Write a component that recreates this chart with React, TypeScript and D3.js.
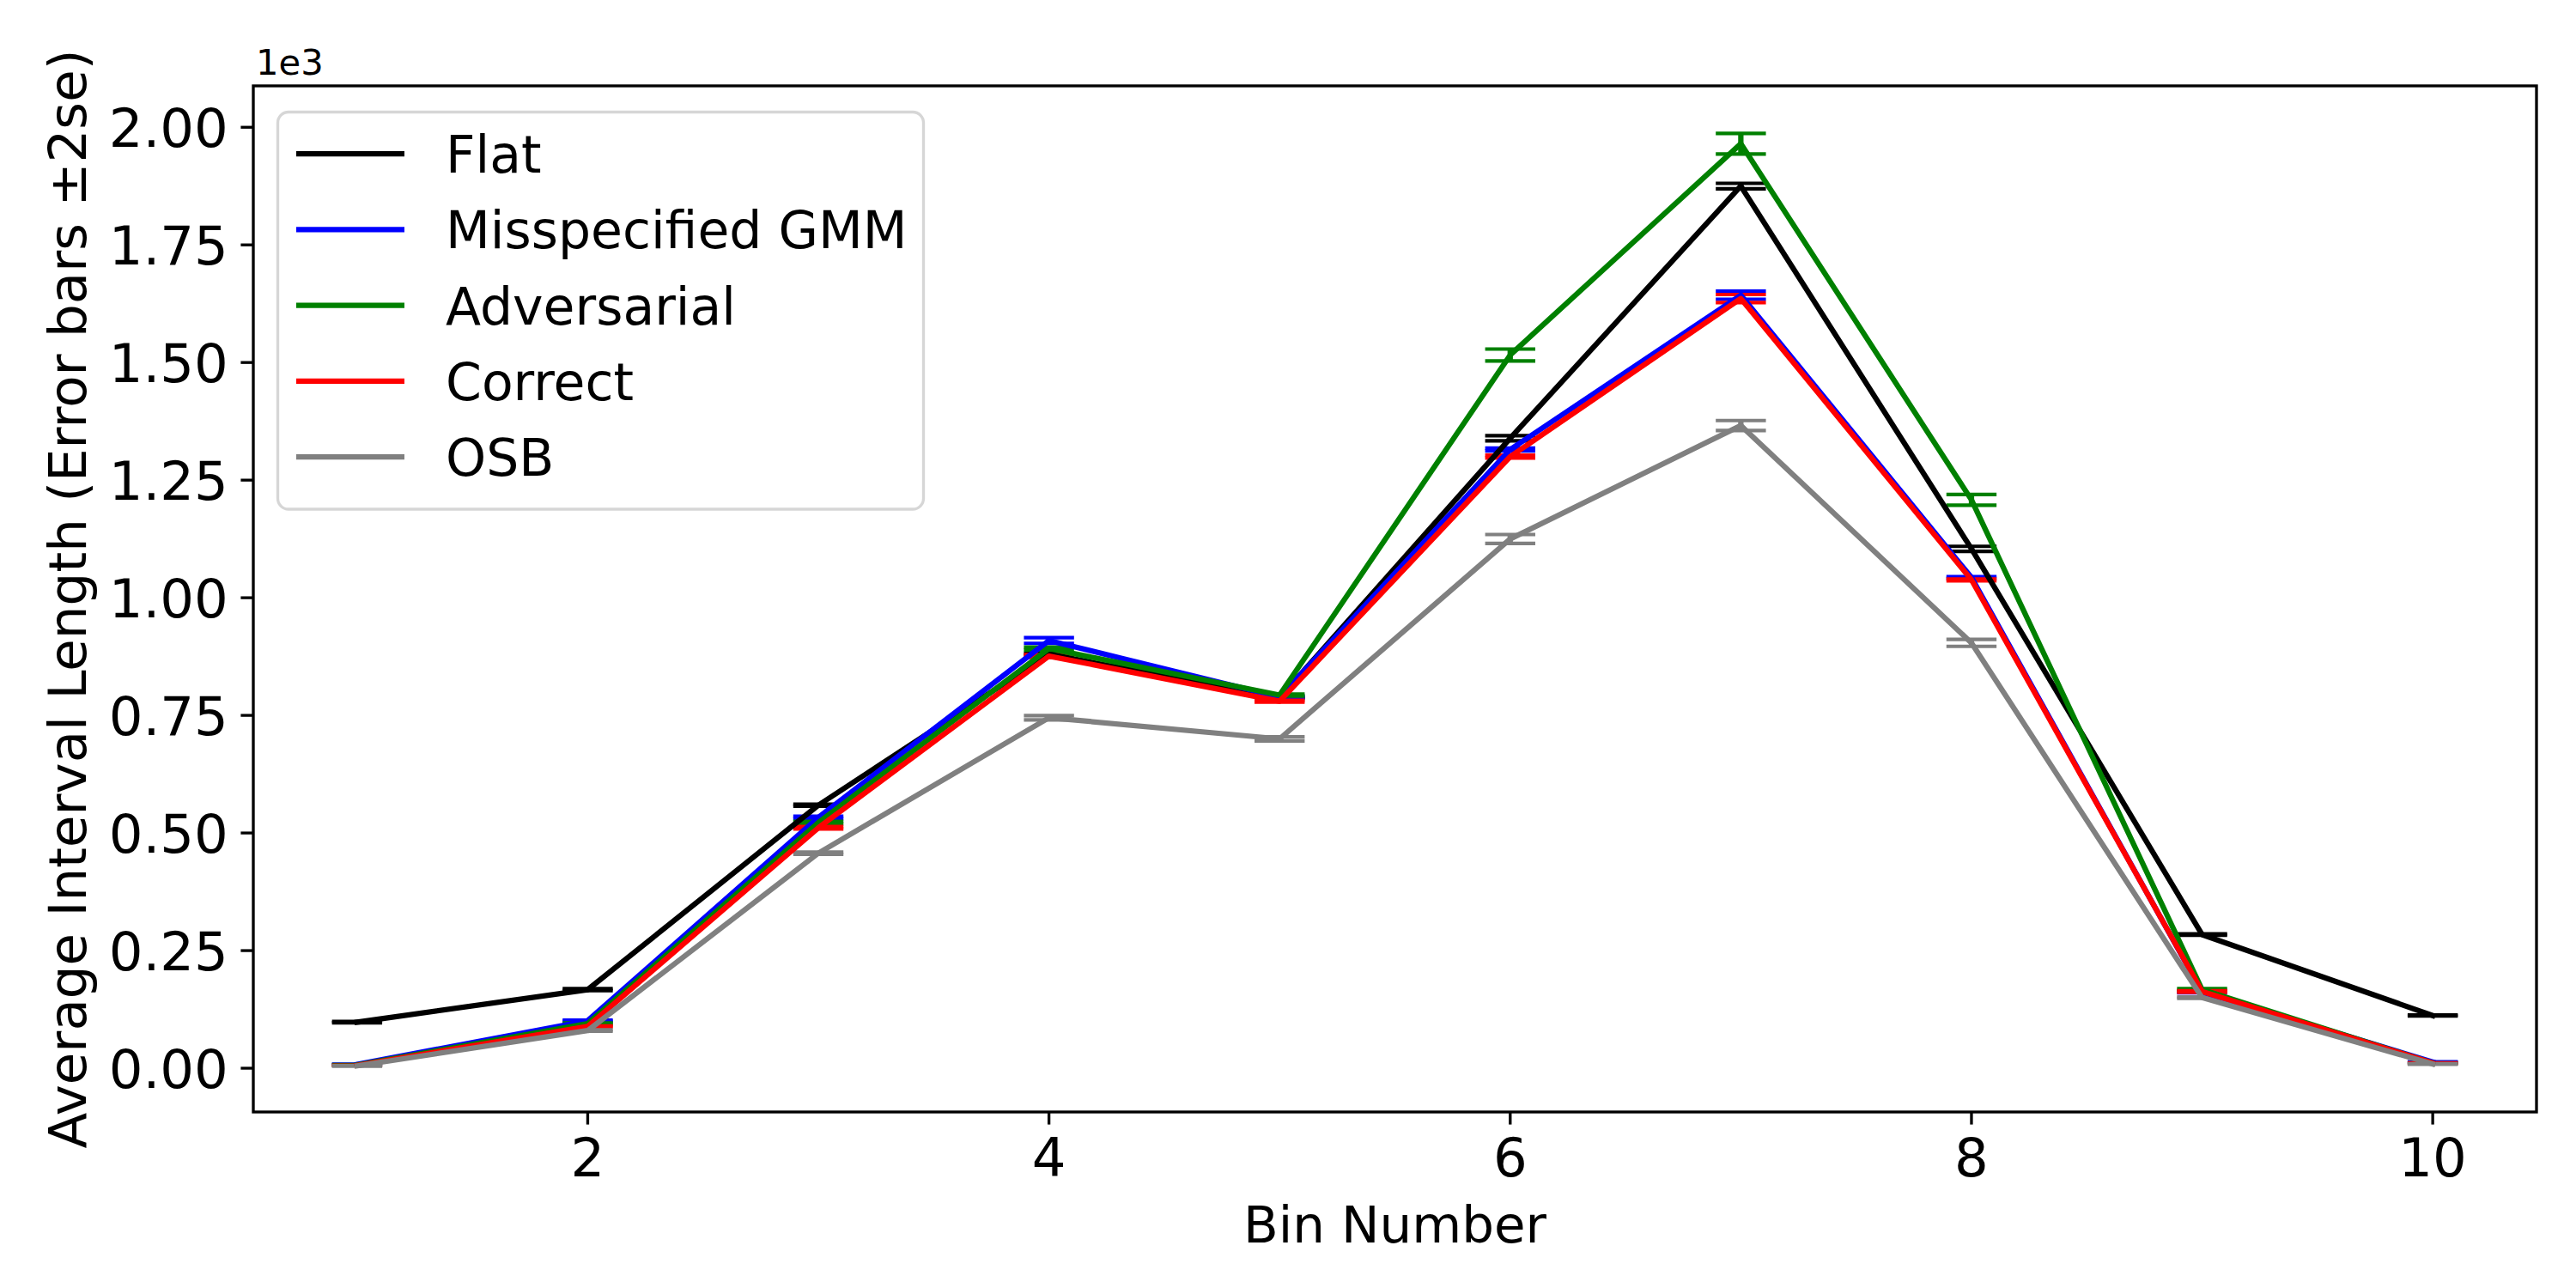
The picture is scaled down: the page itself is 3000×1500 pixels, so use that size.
import React from "react";
import * as d3 from "d3";

// ---------- data ----------
const bins = [1, 2, 3, 4, 5, 6, 7, 8, 9, 10];

const seriesNames = ["Flat", "Misspecified GMM", "Adversarial", "Correct", "OSB"];
const seriesColors = ["#000000", "#0000ff", "#008000", "#ff0000", "#808080"];

const flatMean = [98, 167, 559, 880, 787, 1339, 1875, 1104, 284, 112];
const flatErr = [1.5, 2, 2, 2, 1.5, 5.4, 5.8, 5.3, 1.5, 1];

const gmmMean = [8, 101, 533, 909, 789, 1315, 1643, 1043, 162, 13];
const gmmErr = [0.5, 1, 2.5, 6, 2, 3, 8.5, 2, 1.5, 0.5];

const advMean = [7, 95, 522, 892, 793, 1516, 1965, 1208, 167, 11];
const advErr = [0.5, 1, 2.5, 3, 2, 12.6, 22, 11.4, 2, 0.5];

const correctMean = [6, 89, 511, 876, 780, 1300, 1636, 1038, 163, 11];
const correctErr = [0.5, 1, 2.5, 3, 2, 3, 8.5, 2, 1.5, 0.5];

const osbMean = [5, 80, 457, 745, 700, 1125, 1366, 904, 150, 9];
const osbErr = [0.5, 1.5, 2.4, 4.6, 4.3, 9.4, 10.6, 7.4, 1.5, 0.5];

const yTicks = [0, 250, 500, 750, 1000, 1250, 1500, 1750, 2000];
const xTicks = [2, 4, 6, 8, 10];

const xDomain = [0.55, 10.45];
const yDomain = [-93, 2088];

const allMeans = [flatMean, gmmMean, advMean, correctMean, osbMean];
const allErrs = [flatErr, gmmErr, advErr, correctErr, osbErr];

// ---------- layout ----------
const W = 3000;
const H = 1500;
const left = 295;
const right = 2954;
const top = 100;
const bottom = 1295;
const FONT = "DejaVu Sans, sans-serif";
const FS_TICK = 62.5;
const FS_XLABEL = 59.5;
const FS_YLABEL = 61;
const FS_LEGEND = 60;
const LW = 6.25;
const CAP_LW = 4.17;
const CAP = 29.2;
const SPINE = 3.33;
const TICK = 14.6;

export default function App() {
  const x = d3.scaleLinear().domain(xDomain).range([left, right]);
  const y = d3.scaleLinear().domain(yDomain).range([bottom, top]);
  const line = d3
    .line<number>()
    .x((_, i) => x(bins[i]))
    .y((d) => y(d));

  const series = seriesNames.map((name, s) => ({
    name,
    color: seriesColors[s],
    mean: allMeans[s],
    err: allErrs[s],
  }));

  const legendRowY = (i: number) => 179 + i * 88.3;

  return (
    <svg
      width={W}
      height={H}
      viewBox={`0 0 ${W} ${H}`}
      style={{ position: "absolute", left: 0, top: 0, background: "#fff" }}
      fontFamily={FONT}
    >
      <rect x={0} y={0} width={W} height={H} fill="#fff" />

      <defs>
        <clipPath id="plotClip">
          <rect x={left} y={top} width={right - left} height={bottom - top} />
        </clipPath>
      </defs>

      <g clipPath="url(#plotClip)">
        {/* error bars and caps (below lines) */}
        {series.map((s) => (
          <g key={"eb" + s.name} stroke={s.color}>
            {s.mean.map((m, i) => {
              const cx = x(bins[i]);
              const y0 = y(m - s.err[i]);
              const y1 = y(m + s.err[i]);
              return (
                <g key={i}>
                  <line x1={cx} x2={cx} y1={y0} y2={y1} strokeWidth={LW} />
                  <line x1={cx - CAP} x2={cx + CAP} y1={y0} y2={y0} strokeWidth={CAP_LW} />
                  <line x1={cx - CAP} x2={cx + CAP} y1={y1} y2={y1} strokeWidth={CAP_LW} />
                </g>
              );
            })}
          </g>
        ))}
        {/* data lines */}
        {series.map((s) => (
          <path
            key={"ln" + s.name}
            d={line(s.mean) || ""}
            fill="none"
            stroke={s.color}
            strokeWidth={LW}
            strokeLinejoin="round"
            strokeLinecap="square"
          />
        ))}
      </g>

      {/* spines */}
      <rect
        x={left}
        y={top}
        width={right - left}
        height={bottom - top}
        fill="none"
        stroke="#000"
        strokeWidth={SPINE}
        strokeLinejoin="miter"
      />

      {/* x ticks */}
      {xTicks.map((t) => (
        <g key={"xt" + t}>
          <line x1={x(t)} x2={x(t)} y1={bottom} y2={bottom + TICK} stroke="#000" strokeWidth={SPINE} />
          <text x={x(t)} y={1370} textAnchor="middle" fontSize={FS_TICK} fill="#000">
            {String(t)}
          </text>
        </g>
      ))}

      {/* y ticks */}
      {yTicks.map((t) => (
        <g key={"yt" + t}>
          <line x1={left - TICK} x2={left} y1={y(t)} y2={y(t)} stroke="#000" strokeWidth={SPINE} />
          <text
            x={left - TICK - 14.6}
            y={y(t)}
            dy={FS_TICK * 0.364}
            textAnchor="end"
            fontSize={FS_TICK}
            fill="#000"
          >
            {(t / 1000).toFixed(2)}
          </text>
        </g>
      ))}

      {/* offset text */}
      <text x={298} y={87} fontSize={41.7} fill="#000">
        1e3
      </text>

      {/* axis labels */}
      <text x={(left + right) / 2} y={1446.7} textAnchor="middle" fontSize={FS_XLABEL} fill="#000">
        Bin Number
      </text>
      <text
        transform={`translate(100, ${(top + bottom) / 2}) rotate(-90)`}
        textAnchor="middle"
        fontSize={FS_YLABEL}
        fill="#000"
      >
        Average Interval Length (Error bars ±2se)
      </text>

      {/* legend */}
      <g>
        <rect
          x={323.5}
          y={130.5}
          width={752}
          height={462.5}
          rx={12.5}
          ry={12.5}
          fill="#fff"
          fillOpacity={0.8}
          stroke="#cccccc"
          strokeOpacity={0.8}
          strokeWidth={SPINE}
        />
        {series.map((s, i) => (
          <g key={"lg" + s.name}>
            <line
              x1={345}
              x2={471}
              y1={legendRowY(i)}
              y2={legendRowY(i)}
              stroke={s.color}
              strokeWidth={LW}
            />
            <text x={519} y={legendRowY(i) + 22} fontSize={FS_LEGEND} fill="#000">
              {s.name}
            </text>
          </g>
        ))}
      </g>
    </svg>
  );
}
